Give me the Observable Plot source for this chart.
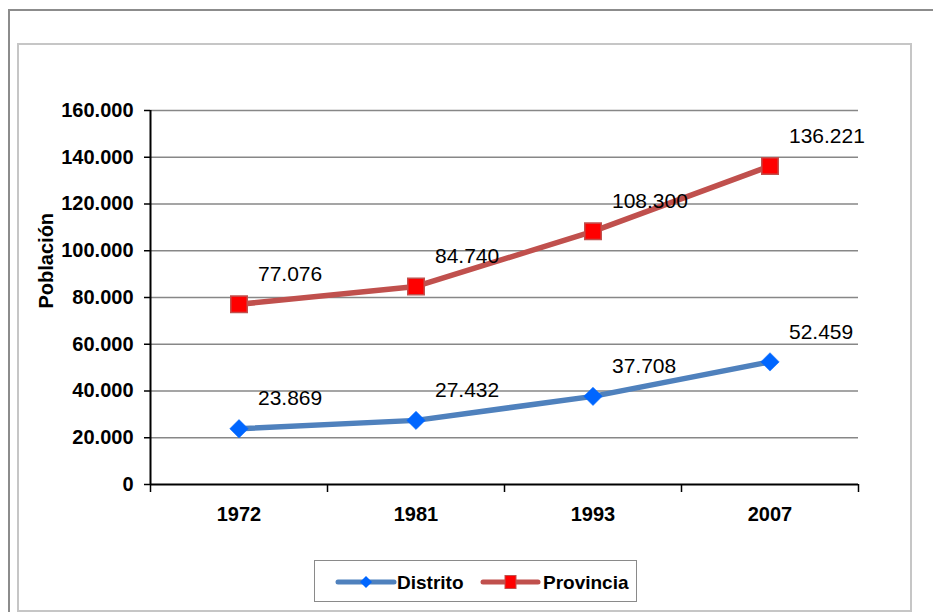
<!DOCTYPE html>
<html><head><meta charset="utf-8">
<script src="https://cdn.jsdelivr.net/npm/d3@7"></script>
<script src="https://cdn.jsdelivr.net/npm/@observablehq/plot@0.6"></script>
<style>
body{margin:0;background:#fff;font-family:"Liberation Sans",Arial,sans-serif;}
#wrap{position:relative;width:933px;height:612px;overflow:hidden;}
.outer{position:absolute;left:8px;top:9px;width:1000px;height:1000px;border:2px solid #8c8c8c;}
.inner{position:absolute;left:17px;top:43px;width:895px;height:569px;border:2px solid #c6c6c6;box-sizing:border-box;}
#chart{position:absolute;left:0;top:0;}
.legend{position:absolute;left:314px;top:560px;width:323px;height:42px;border:1.5px solid #8a8a8a;box-sizing:border-box;background:#fff;}
.legend svg{position:absolute;left:0;top:0;}
</style>
</head><body>
<div id="wrap">
  <div class="outer"></div>
  <div class="inner"></div>
  <div id="chart"></div>
  <div class="legend" id="legend"></div>
</div>
<script>
const years = ["1972", "1981", "1993", "2007"];
const distrito = [23869, 27432, 37708, 52459];
const provincia = [77076, 84740, 108300, 136221];
const seriesNames = ["Distrito", "Provincia"];
const yTicks = [0, 20000, 40000, 60000, 80000, 100000, 120000, 140000, 160000];
const yLabel = "Población";

const lineColors = ["#4f81bd", "#c0504d"];
const fmt = d3.formatLocale({decimal: ",", thousands: ".", grouping: [3], currency: ["", ""]}).format(",d");

const rows = [];
years.forEach((y, i) => {
  rows.push({serie: seriesNames[0], year: y, xi: i + 0.5, value: distrito[i]});
  rows.push({serie: seriesNames[1], year: y, xi: i + 0.5, value: provincia[i]});
});
const centers = years.map((_, i) => i + 0.5);
const bounds = d3.range(years.length + 1);

const chart = Plot.plot({
  width: 933, height: 612,
  marginLeft: 150, marginRight: 75, marginTop: 110, marginBottom: 128,
  style: {fontFamily: "'Liberation Sans', Arial, sans-serif", background: "transparent", overflow: "visible", color: "#000"},
  x: {type: "linear", domain: [0, years.length]},
  y: {domain: [0, 160000]},
  color: {domain: seriesNames, range: lineColors},
  marks: [
    Plot.ruleY(yTicks.filter(d => d > 0), {stroke: "#878787", strokeWidth: 1.5}),
    Plot.axisY({ticks: yTicks, tickFormat: fmt, tickSize: 6, tickPadding: 11, fontSize: 20, fontWeight: "bold", label: null, stroke: "#000", strokeWidth: 1.5}),
    Plot.axisX({ticks: bounds, tickFormat: () => "", tickSize: 8, stroke: "#000", strokeWidth: 1.5, label: null}),
    Plot.axisX({ticks: centers, tickSize: 0, tickPadding: 22, tickFormat: d => years[Math.floor(d)], fontSize: 20, fontWeight: "bold", label: null}),
    Plot.ruleX([0], {stroke: "#000", strokeWidth: 2}),
    Plot.ruleY([0], {stroke: "#000", strokeWidth: 2}),
    Plot.text([yLabel], {frameAnchor: "left", dx: -104, dy: 11, rotate: -90, fontSize: 20, fontWeight: "bold", fill: "#000"}),
    Plot.line(rows, {x: "xi", y: "value", z: "serie", stroke: "serie", strokeWidth: 5.5}),
    Plot.dot(rows.filter(d => d.serie === seriesNames[0]), {x: "xi", y: "value", symbol: "diamond2", r: 8.3, fill: "#0066ff", stroke: "#0066ff", strokeWidth: 0.5}),
    Plot.dot(rows.filter(d => d.serie === seriesNames[1]), {x: "xi", y: "value", symbol: "square", r: 9.3, fill: "#ff0000", stroke: "#c0504d", strokeWidth: 1.5}),
    Plot.text(rows, {x: "xi", y: "value", text: d => fmt(d.value), textAnchor: "start", dx: 19, dy: -30, fontSize: 21, fill: "#000"})
  ]
});
document.getElementById("chart").appendChild(chart);

// Legend
const lg = d3.select("#legend").append("svg").attr("width", 321).attr("height", 40);
const items = [
  {name: seriesNames[0], color: lineColors[0], x0: 23, x1: 79, tx: 82, sym: "diamond"},
  {name: seriesNames[1], color: lineColors[1], x0: 168, x1: 223, tx: 228, sym: "square"}
];
items.forEach(it => {
  const cy = 21;
  lg.append("line").attr("x1", it.x0).attr("x2", it.x1).attr("y1", cy).attr("y2", cy)
    .attr("stroke", it.color).attr("stroke-width", 5).attr("stroke-linecap", "round");
  const cx = (it.x0 + it.x1) / 2;
  if (it.sym === "diamond") {
    lg.append("path").attr("d", `M${cx},${cy-6}L${cx+6},${cy}L${cx},${cy+6}L${cx-6},${cy}Z`).attr("fill", "#0066ff");
  } else {
    lg.append("rect").attr("x", cx - 5.5).attr("y", cy - 6.5).attr("width", 11).attr("height", 13)
      .attr("fill", "#ff0000").attr("stroke", "#c0504d").attr("stroke-width", 1);
  }
  lg.append("text").attr("x", it.tx).attr("y", cy + 7).attr("font-size", 19).attr("font-weight", "bold")
    .attr("font-family", "'Liberation Sans', Arial, sans-serif").text(it.name);
});
</script>
</body></html>
